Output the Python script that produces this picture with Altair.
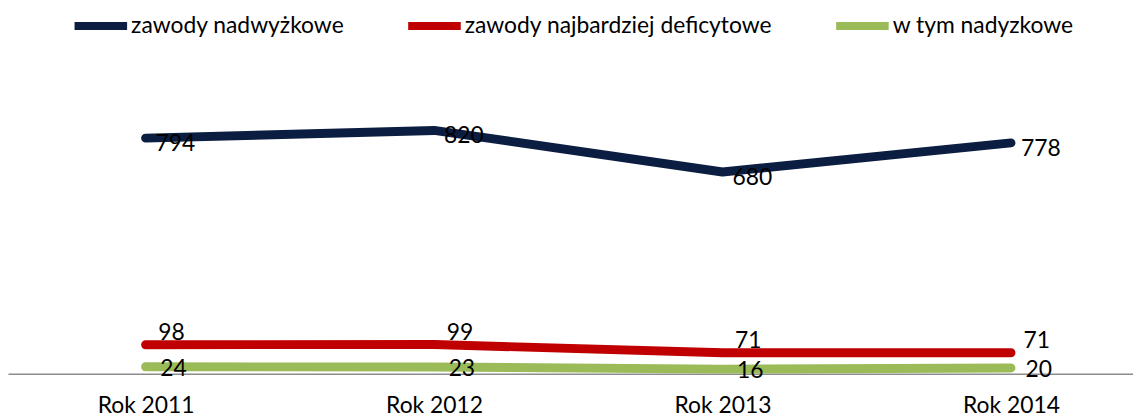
import altair as alt
import pandas as pd

years = ["Rok 2011", "Rok 2012", "Rok 2013", "Rok 2014"]
series_names = ["zawody nadwyżkowe", "zawody najbardziej deficytowe", "w tym nadyzkowe"]
surplus = [794, 820, 680, 778]
deficit = [98, 99, 71, 71]
surplus_sub = [24, 23, 16, 20]
colors = ["#0B1D40", "#C00000", "#9BBB59"]

rows = []
for name, vals in zip(series_names, [surplus, deficit, surplus_sub]):
    for y, v in zip(years, vals):
        rows.append({"rok": y, "seria": name, "wartosc": v})
df = pd.DataFrame(rows)

FONT = "Lato"

xscale = alt.Scale(type="point", padding=0.45, align=0.53)
x = alt.X("rok:N", sort=years, title=None, scale=xscale,
          axis=alt.Axis(domainColor="#8C8C8C", domainWidth=1.5, ticks=False,
                        labelAngle=0, labelFontSize=23, labelFont=FONT,
                        labelColor="#000000", labelPadding=21))
y = alt.Y("wartosc:Q", title=None, scale=alt.Scale(domain=[0, 1000]), axis=None)
color = alt.Color("seria:N", sort=series_names,
                  scale=alt.Scale(domain=series_names, range=colors),
                  legend=alt.Legend(title=None, orient="none", direction="horizontal",
                                    legendX=63, legendY=-82,
                                    symbolType="stroke", symbolStrokeWidth=8,
                                    symbolSize=2800, labelFontSize=23, labelFont=FONT,
                                    labelColor="#000000", labelOffset=0,
                                    columnPadding=48, labelLimit=500))

base = alt.Chart(df)
lines = base.mark_line(strokeWidth=9, strokeCap="round", strokeJoin="round").encode(
    x=x, y=y, color=color)

def labels(name, dx, dy):
    return base.transform_filter(alt.datum.seria == name).mark_text(
        fontSize=23, font=FONT, color="#000000", dx=dx, dy=dy).encode(
        x=alt.X("rok:N", sort=years), y="wartosc:Q", text="wartosc:Q")

chart = alt.layer(
    lines,
    labels(series_names[0], 30, 6),
    labels(series_names[1], 26, -12),
    labels(series_names[2], 28, 2),
).properties(width=1133, height=299,
             padding={"left": 0, "right": 0, "top": -14, "bottom": 0}
).configure_view(stroke=None)

chart.save("out.html", embed_options={"renderer": "svg", "actions": False})
